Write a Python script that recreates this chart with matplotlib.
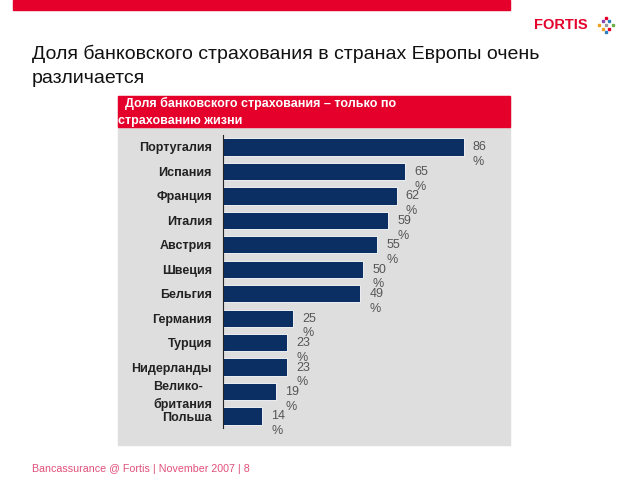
import matplotlib
matplotlib.use("Agg")
import matplotlib.pyplot as plt
from matplotlib.patches import Rectangle

plt.rcParams['font.family'] = ['Liberation Sans', 'DejaVu Sans']

# Data
countries = ["Португалия", "Испания", "Франция", "Италия", "Австрия", "Швеция",
             "Бельгия", "Германия", "Турция", "Нидерланды", "Велико-\nбритания", "Польша"]
shares = [86, 65, 62, 59, 55, 50, 49, 25, 23, 23, 19, 14]

title = "Доля банковского страхования в странах Европы очень\nразличается"
banner = "  Доля банковского страхования – только по\nстрахованию жизни"
footer = "Bancassurance @ Fortis | November 2007 | 8"

RED = "#e4002b"
NAVY = "#0c2f63"
W, H = 640, 480

def fx(px):
    return px / W

def fy(py):
    return 1 - py / H

fig = plt.figure(figsize=(6.4, 4.8), dpi=100)

# top red bar
fig.patches.append(Rectangle((fx(13), fy(10)), fx(510 - 13), 10 / H,
                             transform=fig.transFigure, color=RED, zorder=-2))
# grey panel and red banner
fig.patches.append(Rectangle((fx(118), fy(445)), fx(510 - 118), (445 - 96) / H,
                             transform=fig.transFigure, color="#dedede", zorder=-2))
fig.patches.append(Rectangle((fx(118), fy(127)), fx(510 - 118), (127 - 96) / H,
                             transform=fig.transFigure, color=RED, zorder=-2))

# logo
fig.text(fx(534), fy(25), "FORTIS", color=RED, fontsize=10.5, fontweight="bold",
         va="center", ha="left")
logo_dots = [(606, 18, "#e4002b"), (606, 32, "#2a7fc1"), (599, 25, "#f0a020"),
             (613, 25, "#6ab04c"), (603, 21, "#8e44ad"), (609, 29, "#e4002b"),
             (609, 21, "#2a7fc1"), (603, 29, "#f0a020"), (606, 25, "#999999")]
for x, y, c in logo_dots:
    fig.add_artist(plt.Line2D([fx(x)], [fy(y)], marker="s", markersize=2,
                              color=c, transform=fig.transFigure))

fig.text(fx(32), fy(45), title, fontsize=14, color="#111111", va="top",
         ha="left", linespacing=1.55)
fig.text(fx(118), fy(97), banner, fontsize=9, color="white", fontweight="bold",
         va="top", ha="left", linespacing=1.5)
fig.text(fx(32), fy(469), footer, fontsize=7.7, color="#e0507a", va="center", ha="left")

# bar chart
ax = fig.add_axes([fx(223), fy(428), fx(510 - 223), (428 - 135) / H])
ax.set_zorder(1)
ax.patch.set_alpha(0)
pos = list(range(len(countries)))
ax.barh(pos, shares, height=0.71, color=NAVY, edgecolor="white", linewidth=0.6)
ax.set_xlim(0, (510 - 223) / 2.8)
ax.set_ylim(len(countries) - 0.51, -0.49)
ax.set_yticks(pos)
ax.set_yticklabels(countries, fontsize=9, fontweight="bold", color="#222222")
for lbl in ax.get_yticklabels():
    if "\n" in lbl.get_text():
        lbl.set_multialignment("left")
        lbl.set_linespacing(1.5)
ax.tick_params(axis="y", length=0, pad=8)
ax.set_xticks([])
for s in ["top", "right", "bottom"]:
    ax.spines[s].set_visible(False)
ax.spines["left"].set_color("#222222")

for p, v in zip(pos, shares):
    ax.annotate(f"{v}\n%", (v, p), xytext=(6.5, 4), textcoords="offset points",
                fontsize=9, color="#555555", va="top", ha="left", linespacing=1.3)

fig.savefig("out.png", dpi=100)
